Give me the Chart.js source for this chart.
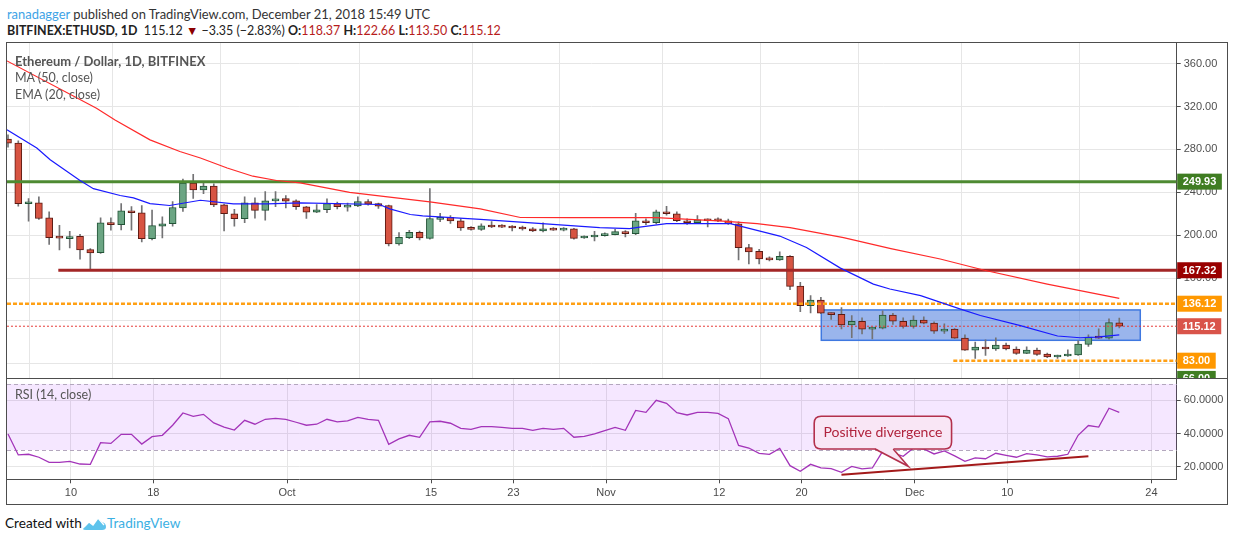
<!DOCTYPE html>
<html><head><meta charset="utf-8">
<script src="https://cdn.jsdelivr.net/npm/chart.js@4.4.0/dist/chart.umd.min.js"></script>
<style>
html,body{margin:0;padding:0;background:#fff;}
body{width:1234px;height:541px;overflow:hidden;position:relative;font-family:Lato,"Open Sans",sans-serif;}
#frame{position:absolute;left:6px;top:42px;width:1222px;height:463px;border:1.5px solid #4d4d4d;box-sizing:border-box;}
#sep{position:absolute;left:6px;top:377.5px;width:1222px;height:1.5px;background:#4d4d4d;}
#c1{position:absolute;left:7px;top:43px;}
#c2{position:absolute;left:7px;top:379px;}
.t{position:absolute;white-space:nowrap;}
.r{color:#b71c1c;}
.lg{position:absolute;left:15px;font-size:12.5px;color:#555;white-space:nowrap;}
</style>
</head><body>
<div class="t" style="left:7px;top:6px;font-size:12.95px;color:#333;"><span style="color:#3ea3e6">ranadagger</span> published on TradingView.com, December 21, 2018 15:49 UTC</div>
<div class="t" style="left:7px;top:23px;font-size:12.45px;color:#222;"><b>BITFINEX:ETHUSD, 1D</b>&nbsp; 115.12 <span style="color:#8b0000">▼</span> −3.35 (−2.83%) <b>O:</b><span class="r">118.37</span> <b>H:</b><span class="r">122.66</span> <b>L:</b><span class="r">113.50</span> <b>C:</b><span class="r">115.12</span></div>
<div id="frame"></div>
<canvas id="c1" width="1220" height="335"></canvas>
<div id="sep"></div>
<canvas id="c2" width="1220" height="125"></canvas>
<div class="lg" style="top:53px;font-weight:bold;font-size:13px;">Ethereum / Dollar, 1D, BITFINEX</div>
<div class="lg" style="top:70px;">MA (50, close)</div>
<div class="lg" style="top:87px;">EMA (20, close)</div>
<div class="lg" style="top:387px;">RSI (14, close)</div>
<div class="t" style="left:5px;top:515px;font-size:13.6px;color:#111;">Created with</div>
<svg style="position:absolute;left:82px;top:515px" width="25" height="16" viewBox="0 0 25 16">
<path d="M1 14 L7 7 L11 10 L16 3 L20 7 Q24 8 24 12 Q24 15 20 15 L4 15 Q1 15 1 14 Z" fill="#5ec3ec"/>
<path d="M2 12 L7 7 L11 10 L16 3 L22 10" fill="none" stroke="#fff" stroke-width="1.3"/>
</svg>
<div class="t" style="left:107px;top:515px;font-size:13.6px;color:#3bb0e3;">TradingView</div>
<script>
// ---------------- data ----------------
const dates = ['Sep 4','Sep 5','Sep 6','Sep 7','Sep 8','Sep 9','Sep 10','Sep 11','Sep 12','Sep 13','Sep 14','Sep 15','Sep 16','Sep 17','Sep 18','Sep 19','Sep 20','Sep 21','Sep 22','Sep 23','Sep 24','Sep 25','Sep 26','Sep 27','Sep 28','Sep 29','Sep 30',
'Oct 1','Oct 2','Oct 3','Oct 4','Oct 5','Oct 6','Oct 7','Oct 8','Oct 9','Oct 10','Oct 11','Oct 12','Oct 13','Oct 14','Oct 15','Oct 16','Oct 17','Oct 18','Oct 19','Oct 20','Oct 21','Oct 22','Oct 23','Oct 24','Oct 25','Oct 26','Oct 27','Oct 28','Oct 29','Oct 30','Oct 31',
'Nov 1','Nov 2','Nov 3','Nov 4','Nov 5','Nov 6','Nov 7','Nov 8','Nov 9','Nov 10','Nov 11','Nov 12','Nov 13','Nov 14','Nov 15','Nov 16','Nov 17','Nov 18','Nov 19','Nov 20','Nov 21','Nov 22','Nov 23','Nov 24','Nov 25','Nov 26','Nov 27','Nov 28','Nov 29','Nov 30',
'Dec 1','Dec 2','Dec 3','Dec 4','Dec 5','Dec 6','Dec 7','Dec 8','Dec 9','Dec 10','Dec 11','Dec 12','Dec 13','Dec 14','Dec 15','Dec 16','Dec 17','Dec 18','Dec 19','Dec 20','Dec 21'];

const opens = [289.5,285.8,229.3,230.2,216.3,198,196.8,199,186.6,183.8,211.6,209.8,222.8,220.9,196.8,208.5,210.7,225.5,248.7,242.2,245.9,228.3,220,215.4,230.2,223.1,232,
234.2,232,226.5,221.5,223.7,229.5,226.1,227.4,231.4,229.5,227.7,191.8,197.7,202.7,197.1,214.7,216.6,213.5,207,205.4,208.8,208.2,208.2,207.3,206,203.9,206.4,204.8,206,197.4,198.3,
199.6,200.5,203.3,201.4,213.5,211.6,221.8,220,213.5,211.6,214.4,214,213.5,210.7,188.4,185,178.5,177,180.4,152.6,134.3,139.6,127.2,126.3,116.4,119.8,112.4,113.3,125.4,119.8,
114.9,120.8,118,110.5,112.4,104,92.9,95.7,93.9,97.6,93.9,89.8,92.9,89.2,86.4,87.4,88.3,98.2,105.3,104,118.37];
const highs = [293.5,288,234.2,235.7,221.8,209.2,203.6,200.8,187.5,216.3,216.3,229.5,226.6,227.7,223.4,217.2,231.4,252.4,256.7,250.2,248,229,224,235.8,234.8,240.7,240.7,
237,233,227,228.6,233.9,230.8,230,235.7,233.3,230,228,202.4,204.5,203.9,243.5,220.3,218.4,215.6,208,210.7,212.6,209.8,209,208.5,207,211.6,207,207,206.5,199.5,203.6,
202.3,205.4,204.2,220.3,215.3,223.4,227,221.8,215.3,218.4,215.3,216.2,215,212.5,191.5,186.9,179.8,184.4,181,156,143.6,142,127.5,132.5,125,122.9,114,129.4,127.2,122.9,
124.8,123.8,119.2,117.3,113,107.2,100.3,102.5,104.4,99.4,96,96,94.8,90.1,88.3,93.2,101.6,107.2,112.7,122,122.66];
const lows = [282,227,213.1,214.7,191.5,186.3,188.2,177.6,168.3,183,204.8,205,204.8,193.7,195.5,197.4,208.5,222.1,234.2,238.8,226.5,203.9,208.5,211.6,215.9,214,226.5,
225.5,224,215.6,221,220.9,224.6,222.4,226.5,228,224.9,190,190.6,196.8,195.5,196.2,212.6,211,204.5,204.8,204.5,207,207,203.9,204.8,203.3,203,204.5,204,196.2,197,194.6,
199,200.2,198.3,200.5,209.8,210.4,218.7,212.5,210,211,207.6,212.5,210,177,173.3,173.3,176,176.5,149.2,128.8,127.5,126.8,121.4,112.7,104.4,108,103.4,112.7,116.7,113.3,
113.3,117.3,108.4,108.4,103.7,92.5,85.2,88,92.6,93,88.9,89.5,88,85.8,85.2,87,88,96.3,103.7,103.1,113.5];
const closes = [285.8,229.3,230,215.6,197.7,197.2,198.7,186.3,183.4,211.6,209.8,222.8,220.9,196.8,208.9,210.7,225.8,248.7,242.2,245.9,228.3,220,215.4,230.2,223.1,232,233.9,
231.7,226.5,221.5,223.7,229.5,226.5,228,231.4,228.9,227.1,191.8,198,202.7,197.4,215.6,216.6,213.2,206.7,205.5,208.8,207.6,207.5,206.7,205.8,203.9,206,204.8,206.4,197.1,198.9,199.9,
200.8,203.3,201.4,213.5,211.6,221.8,220,213.5,211.6,214.4,213.5,213.3,210.7,188.4,184.4,177.9,177,180.4,152.3,134.3,139.6,127.2,126,116.4,119.8,112.4,113.3,125.4,119.8,114.9,
120.8,118,110.5,112.4,104,92.9,95.7,93.9,97.6,93.9,89.8,92.9,88.9,86.4,87.7,88.6,98.5,105,104,118.5,115.12];

const rsi = [39.7,27.0,27.4,25.6,22.5,22.5,23.1,21.5,21.3,34.4,34.0,39.5,39.5,33.6,38.1,38.9,45.0,52.4,50.4,51.6,46.4,43.9,42.1,48.0,45.6,48.6,49.2,
48.6,46.8,45.0,45.6,48.6,47.0,47.6,49.8,48.6,48.0,33.4,36.7,38.9,37.7,47.0,47.4,46.2,43.1,42.5,44.1,44.1,43.7,43.1,43.1,41.9,43.1,42.5,43.1,37.7,38.3,39.7,
41.7,43.7,41.9,54.0,52.8,60.1,58.3,52.6,51.2,52.8,52.8,52.2,49.0,32.8,31.2,28.0,27.4,31.0,20.5,17.1,21.3,19.1,18.7,16.5,20.1,18.5,19.1,29.2,28.2,26.2,
31.2,30.6,27.6,29.4,26.4,23.1,25.2,24.7,28.0,26.8,25.6,27.8,27.0,25.8,26.2,27.4,38.9,44.8,43.9,55.3,52.8];

// moving averages (day index, value)
const maDay   = [-0.1,8.6,10.4,13.8,16.7,18.7,21.3,23.8,26.1,28.4,33.2,41,45.9,49.8,54.6,58.5,63,69.5,72.8,76,81.2,85.8,90.6,94.9,101,108];
const maValue = [362.5,318.3,307.4,288.9,278,272,262.6,255,251,248.7,240,231,224.6,216.5,216.3,216.3,216.3,213.2,210.7,207,197.7,187.5,177.8,167.3,154.4,141.1];
const emaDay   = [-0.1,2.8,4.1,7.0,8.3,10.9,12.2,13.8,15.7,18.7,21.9,25.2,28.4,36.1,37.1,39.1,40.3,45.9,49.1,57.5,60.4,61.4,64.0,70.2,75.0,77.6,80.9,84.1,85.7,88.7,92.5,94.5,98.3,102.0,104.2,105.8,108];
const emaValue = [298.2,281.2,270.3,250.9,243.4,237,234.8,229.5,227.7,232.6,229.2,229.2,230.2,228.6,224.6,219.3,218.1,214.7,212.6,207,206.1,207.6,210.7,210.7,199.2,188.5,169.3,154.4,149.8,143.6,131.3,125.1,115.9,106,104.4,105,107.1];

// horizontal levels and drawings
const levelValues = [249.93, 167.32, 136.12, 115.12, 83.00];
const levelFrom   = [-0.1, 4.89, -0.1, -0.1, 91.87];
const priceLabels = [249.93, 167.32, 136.12, 115.12, 83.00, 66.00];
const zoneDays   = [79.04, 110.04];
const zonePrices = [102.0, 130.3];
const trendDays = [81.0, 105.0];
const trendRsi  = [15.0, 26.2];
const noteDays = [78.35, 91.7];
const noteRsi  = [30.6, 50.4];
const noteTailDays = [84.26, 86.03, 87.49];
const noteTailRsi  = [30.6, 30.6, 20.1];
const noteText = 'Positive divergence';

// axes
const tickDays = [6, 14, 27, 41, 49, 58, 69, 77, 88, 97, 111];
const tickText = ['10','18','Oct','15','23','Nov','12','20','Dec','10','24'];
const priceTicks = [80,120,160,200,240,280,320,360];
const priceTicksHidden = [80,120];
const rsiTicks = [20,40,60];

// ---------------- styles ----------------
const X_MIN = -0.097, X_MAX = 113.58;
const AXIS_W = 50.3;
const GRID = '#e6e6e6', AXIS = '#4d4d4d';
const levelStyles = [
  {color:'#4e8a32', width:3, dash:[]},
  {color:'#a32626', width:3, dash:[]},
  {color:'#ffa014', width:2.5, dash:[4,2]},
  {color:'#e53935', width:1, dash:[2,2]},
  {color:'#ffa014', width:2.5, dash:[4,2]}
];
const labelStyles = ['#3f7d22','#990000','#ff9800','#d9544a','#ff9800','#3f7d22'];
const UP = '#6ba583', UPB = '#225437', DN = '#d75442', DNB = '#5b1a13', WICK = '#737375';
const axisFont = {family:'"Liberation Sans", Arial, sans-serif', size:11};

const xTicksCb = (scale) => { scale.ticks = tickDays.map(v => ({value: v + 0.12})); };
const noPad = (s) => { s.paddingTop = 0; s.paddingBottom = 0; s.paddingLeft = 0; s.paddingRight = 0; };

// ---------------- price chart ----------------
const up = closes.map((c,i) => c >= opens[i]);
const levelSets = levelValues.map((v,k) => ({
  type:'line', data:[{x:levelFrom[k], y:v},{x:X_MAX, y:v}],
  borderColor:levelStyles[k].color, borderWidth:levelStyles[k].width, borderDash:levelStyles[k].dash,
  pointRadius:0, order:2
}));

const zonePlugin = {
  id:'zone',
  beforeDatasetsDraw(chart){
    const {ctx, scales:{x, y}} = chart;
    const x0 = x.getPixelForValue(zoneDays[0]), x1 = x.getPixelForValue(zoneDays[1]);
    const y0 = y.getPixelForValue(zonePrices[1]), y1 = y.getPixelForValue(zonePrices[0]);
    ctx.save();
    ctx.fillStyle = 'rgba(41,98,215,0.47)';
    ctx.fillRect(x0, y0, x1-x0, y1-y0);
    ctx.strokeStyle = '#3f78e0'; ctx.lineWidth = 1.5;
    ctx.strokeRect(x0, y0, x1-x0, y1-y0);
    ctx.restore();
  },
  afterDraw(chart){
    const {ctx, scales:{y}, chartArea:a} = chart;
    ctx.save();
    ctx.font = 'bold 11px "Liberation Sans", Arial, sans-serif';
    ctx.textBaseline = 'middle';
    priceLabels.forEach((v,k) => {
      const py = y.getPixelForValue(v);
      const txt = v.toFixed(2);
      const w = ctx.measureText(txt).width + 11;
      ctx.fillStyle = labelStyles[k];
      ctx.fillRect(a.right + 0.5, py - 8, w, 16);
      ctx.fillStyle = '#fff';
      ctx.fillText(txt, a.right + 6, py + 0.5);
    });
    ctx.restore();
  }
};

new Chart(document.getElementById('c1'), {
  type:'bar',
  data:{datasets:[
    {type:'line', data: maDay.map((d,i)=>({x:d, y:maValue[i]})), borderColor:'#ff2a2a', borderWidth:1.2, pointRadius:0, tension:0, order:1},
    {type:'line', data: emaDay.map((d,i)=>({x:d, y:emaValue[i]})), borderColor:'#1a1aff', borderWidth:1.2, pointRadius:0, tension:0, order:1},
    ...levelSets,
    {data: opens.map((o,i)=>({x:i, y:[o, closes[i]]})), backgroundColor: up.map(u=>u?UP:DN), borderColor: up.map(u=>u?UPB:DNB),
     borderWidth:1, borderSkipped:false, barThickness:7, minBarLength:2, grouped:false, order:4},
    {data: lows.map((l,i)=>({x:i, y:[l, highs[i]]})), backgroundColor:WICK, borderWidth:0, barThickness:1, grouped:false, order:5}
  ]},
  options:{
    responsive:false, animation:false, events:[],
    layout:{padding:0},
    plugins:{legend:{display:false}, tooltip:{enabled:false}},
    scales:{
      x:{type:'linear', min:X_MIN, max:X_MAX, offset:false,
         afterBuildTicks:xTicksCb, ticks:{display:false},
         grid:{color:GRID, drawTicks:false}, border:{display:false},
         afterFit:(s)=>{s.height=0; noPad(s);}},
      y:{position:'right', min:66.85, max:379.2,
         afterBuildTicks:(s)=>{s.ticks = priceTicks.map(v=>({value:v}));},
         ticks:{callback:(v)=>priceTicksHidden.includes(v) ? '' : Number(v).toFixed(2), color:'#4f4f4f', font:axisFont, padding:3},
         grid:{color:GRID, tickColor:AXIS, tickLength:4},
         border:{display:true, color:AXIS, width:1},
         afterFit:(s)=>{s.width=AXIS_W; noPad(s);}}
    }
  },
  plugins:[zonePlugin]
});

// ---------------- RSI chart ----------------
const rsiPlugin = {
  id:'rsiband',
  beforeDatasetsDraw(chart){
    const {ctx, scales:{y}, chartArea:a} = chart;
    const y70 = y.getPixelForValue(70), y30 = y.getPixelForValue(30);
    ctx.save();
    ctx.fillStyle = 'rgba(153,21,255,0.1)';
    ctx.fillRect(a.left, y70, a.right-a.left, y30-y70);
    ctx.strokeStyle = '#b3a7bd'; ctx.lineWidth = 1; ctx.setLineDash([4,3]);
    [y70, y30].forEach(py => { ctx.beginPath(); ctx.moveTo(a.left, Math.round(py)+0.5); ctx.lineTo(a.right, Math.round(py)+0.5); ctx.stroke(); });
    ctx.restore();
  },
  afterDatasetsDraw(chart){
    const {ctx, scales:{x, y}} = chart;
    ctx.save();
    ctx.strokeStyle = '#a31a1a'; ctx.lineWidth = 2;
    ctx.beginPath();
    ctx.moveTo(x.getPixelForValue(trendDays[0]), y.getPixelForValue(trendRsi[0]));
    ctx.lineTo(x.getPixelForValue(trendDays[1]), y.getPixelForValue(trendRsi[1]));
    ctx.stroke();
    const bx0 = x.getPixelForValue(noteDays[0]), bx1 = x.getPixelForValue(noteDays[1]);
    const by0 = y.getPixelForValue(noteRsi[1]), by1 = y.getPixelForValue(noteRsi[0]);
    const r = 7;
    ctx.beginPath();
    ctx.moveTo(bx0+r, by0); ctx.lineTo(bx1-r, by0); ctx.quadraticCurveTo(bx1, by0, bx1, by0+r);
    ctx.lineTo(bx1, by1-r); ctx.quadraticCurveTo(bx1, by1, bx1-r, by1);
    ctx.lineTo(bx0+r, by1); ctx.quadraticCurveTo(bx0, by1, bx0, by1-r);
    ctx.lineTo(bx0, by0+r); ctx.quadraticCurveTo(bx0, by0, bx0+r, by0);
    ctx.closePath();
    ctx.fillStyle = '#f9e6f5'; ctx.fill();
    ctx.strokeStyle = '#b3304c'; ctx.lineWidth = 1.6; ctx.stroke();
    const t = noteTailDays.map((d,i)=>[x.getPixelForValue(d), y.getPixelForValue(noteTailRsi[i])]);
    ctx.beginPath(); ctx.moveTo(t[0][0], t[0][1]-1); ctx.lineTo(t[2][0], t[2][1]); ctx.lineTo(t[1][0], t[1][1]-1); ctx.closePath();
    ctx.fillStyle = '#f9e6f5'; ctx.fill();
    ctx.beginPath(); ctx.moveTo(t[0][0], t[0][1]); ctx.lineTo(t[2][0], t[2][1]); ctx.lineTo(t[1][0], t[1][1]);
    ctx.strokeStyle = '#b3304c'; ctx.lineWidth = 1.6; ctx.stroke();
    ctx.fillStyle = '#b0233d'; ctx.font = '14px Lato, "Open Sans", sans-serif';
    ctx.textAlign = 'center'; ctx.textBaseline = 'middle';
    ctx.fillText(noteText, (bx0+bx1)/2, (by0+by1)/2);
    ctx.restore();
  }
};

new Chart(document.getElementById('c2'), {
  type:'line',
  data:{datasets:[
    {data: rsi.map((v,i)=>({x:i, y:v})), borderColor:'#a334b9', borderWidth:1.3, pointRadius:0, tension:0}
  ]},
  options:{
    responsive:false, animation:false, events:[],
    layout:{padding:0},
    plugins:{legend:{display:false}, tooltip:{enabled:false}},
    scales:{
      x:{type:'linear', min:X_MIN, max:X_MAX, offset:false,
         afterBuildTicks:xTicksCb,
         ticks:{callback:(v,i)=>tickText[i], color:'#4a4a4a', font:axisFont, padding:3, autoSkip:false, maxRotation:0},
         grid:{color:GRID, tickColor:AXIS, tickLength:4},
         border:{display:true, color:AXIS, width:1},
         afterFit:(s)=>{s.height=24.7; noPad(s);}},
      y:{position:'right', min:12.24, max:73.0,
         afterBuildTicks:(s)=>{s.ticks = rsiTicks.map(v=>({value:v}));},
         ticks:{callback:(v)=>Number(v).toFixed(4), color:'#4f4f4f', font:axisFont, padding:3},
         grid:{color:GRID, tickColor:AXIS, tickLength:4},
         border:{display:true, color:AXIS, width:1},
         afterFit:(s)=>{s.width=AXIS_W; noPad(s);}}
    }
  },
  plugins:[rsiPlugin]
});
</script>
</body></html>
